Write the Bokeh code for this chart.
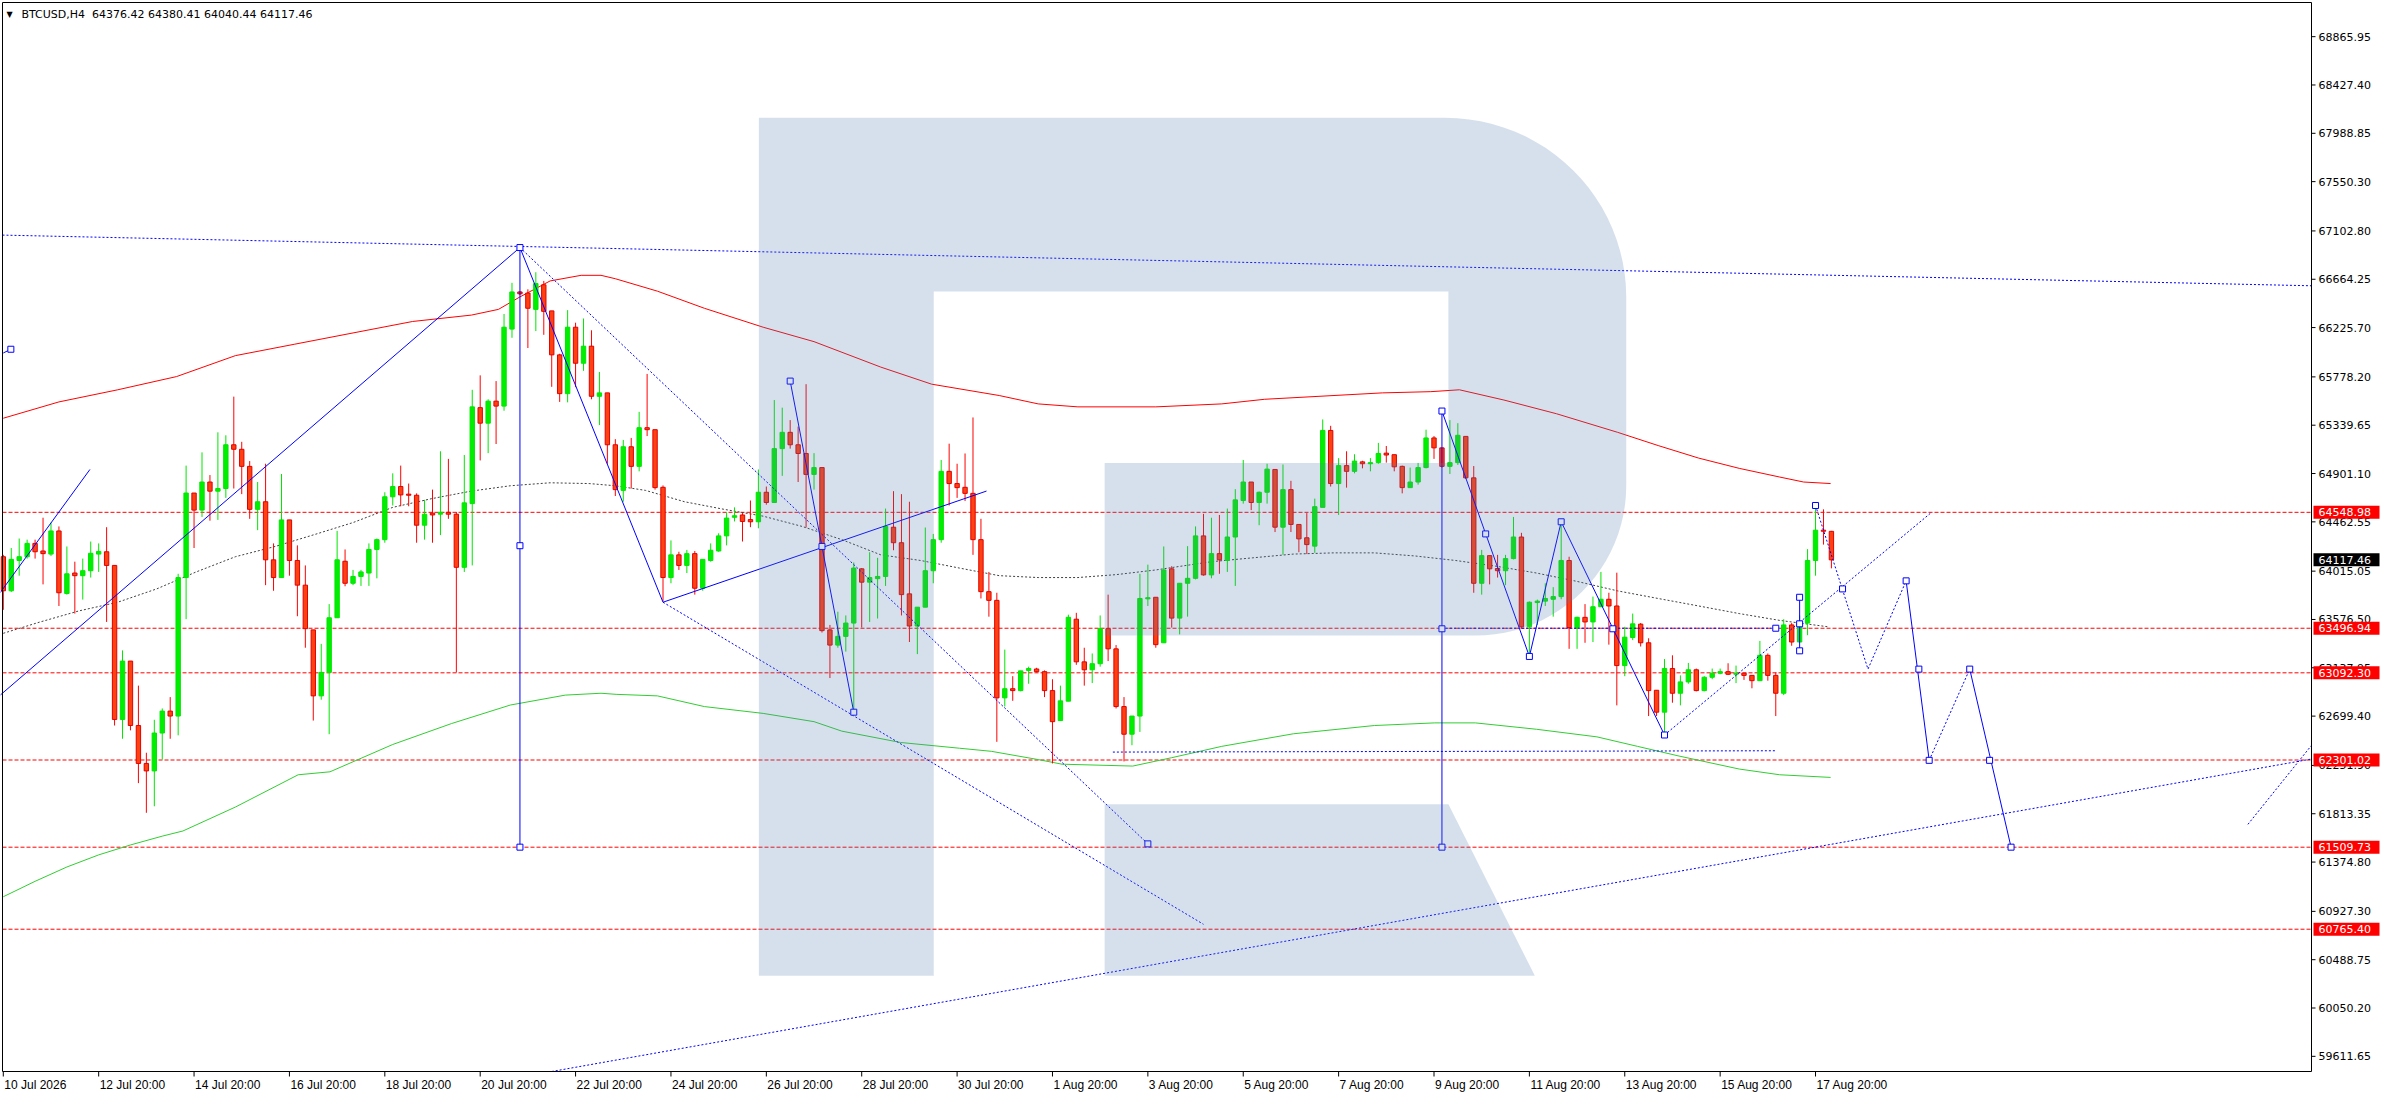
# BTCUSD H4 chart, MT4 style, rebuilt with Bokeh.
import math
from bokeh.plotting import figure
from bokeh.models import Range1d, ColumnDataSource, Label
from bokeh.core.properties import value
from bokeh.embed import file_html
from bokeh.resources import INLINE

# candles, one per H4 bar, bar 0 = 10 Jul 20:00
opens = [64146, 63837, 64112, 64146, 64267, 64198, 64170, 64380, 63812, 63998, 63974, 64019, 64170, 64191, 64067, 62669,
         63199, 62614, 62270, 62202, 62546, 62745, 62700, 63957, 64724, 64569, 64824, 64741, 64765, 65162, 65121, 64966,
         64576, 64645, 64118, 63957, 64480, 64112, 63888, 63482, 62883, 63096, 63592, 64105, 63905, 63967, 63998, 64212,
         64301, 64690, 64783, 64714, 64704, 64432, 64542, 64532, 64549, 64532, 64050, 64628, 65499, 65358, 65558, 65513,
         66212, 66549, 66539, 66391, 66614, 66377, 65978, 65626, 66229, 65902, 66057, 65602, 65633, 65162, 64748, 65144,
         64966, 65317, 65299, 64776, 63957, 64163, 64067, 64174, 63860, 64112, 64198, 64335, 64504, 64525, 64483, 64463,
         64731, 64638, 65127, 65275, 65162, 65083, 64893, 64955, 63482, 63344, 63423, 63544, 64036, 63915, 63947, 63967,
         64414, 64273, 63809, 63517, 63688, 64019, 64301, 64921, 64810, 64776, 64721, 64301, 63829, 63750, 62865, 62948,
         62931, 63114, 63127, 63103, 62931, 62659, 62835, 63579, 63192, 63120, 63175, 63493, 63310, 62786, 62535, 62700,
         63764, 63778, 63365, 64036, 63589, 63905, 63950, 64335, 63981, 64174, 64112, 64325, 64656, 64824, 64638, 64731,
         64938, 64414, 64755, 64439, 64318, 64242, 64594, 65292, 64810, 64973, 64921, 65007, 64990, 65000, 65086, 65072,
         64966, 64773, 64824, 64955, 65224, 65134, 64966, 65000, 65238, 64862, 63905, 64156, 64039, 64019, 64129, 64325,
         63510, 63730, 63743, 63760, 63784, 64112, 63503, 63596, 63554, 63692, 63760, 63699, 63158, 63413, 63534, 63365,
         62934, 62735, 63131, 62907, 63010, 63120, 62931, 63052, 63089, 63103, 63079, 63089, 63069, 63021, 63251, 63069,
         62907, 63527, 63372, 63544, 64112, 64387, 64376.42]
highs = [64163, 64225, 64311, 64301, 64301, 64500, 64456, 64421, 64239, 64101, 64129, 64284, 64267, 64414, 64067, 63296,
         63199, 62976, 62367, 62666, 62769, 62872, 63991, 64973, 64724, 65093, 64887, 65275, 65248, 65599, 65189, 65014,
         64824, 64990, 64267, 64897, 64480, 64249, 64067, 63482, 63355, 63716, 64380, 64212, 64026, 64026, 64267, 64311,
         64731, 64903, 64973, 64810, 64721, 64662, 64755, 65103, 65034, 64552, 65069, 65661, 65792, 65575, 65740, 66349,
         66632, 66556, 66573, 66728, 66649, 66377, 65988, 66384, 66270, 66308, 66201, 65823, 65633, 65213, 65206, 65224,
         65461, 65805, 65299, 64793, 64294, 64191, 64208, 64198, 64122, 64267, 64359, 64549, 64594, 64542, 64656, 64938,
         64783, 65568, 65499, 65386, 65327, 65712, 65086, 64955, 63527, 63647, 63613, 64094, 64043, 64187, 64136, 64583,
         64741, 64714, 64645, 63688, 64411, 64353, 65024, 65172, 64990, 65083, 65410, 64490, 64008, 63819, 63303, 63062,
         63110, 63148, 63138, 63114, 63034, 62976, 63620, 63637, 63320, 63268, 63613, 63802, 63344, 62872, 62700, 63991,
         64074, 63778, 64239, 64060, 63905, 64242, 64421, 64535, 64500, 64525, 64583, 64759, 65024, 64824, 64738, 64990,
         64938, 64983, 64835, 64439, 64542, 64673, 65392, 65334, 65041, 65103, 65076, 65017, 65041, 65179, 65151, 65072,
         64973, 64955, 64997, 65299, 65241, 65134, 65386, 65358, 65238, 64969, 64208, 64156, 64163, 64163, 64507, 64363,
         63740, 63757, 63905, 63870, 64439, 64146, 63602, 63716, 63784, 64008, 63819, 64001, 63510, 63630, 63544, 63406,
         62934, 63217, 63251, 63069, 63182, 63131, 63062, 63131, 63131, 63179, 63158, 63089, 63069, 63382, 63268, 63096,
         63579, 63544, 63613, 64215, 64611, 64576, 64380.41]
lows = [63664, 63826, 63974, 64129, 64129, 63895, 64153, 63699, 63802, 63630, 63757, 63957, 64008, 63554, 62614, 62494,
        62570, 62091, 61822, 61881, 62305, 62494, 62525, 63579, 64225, 64507, 64473, 64480, 64680, 64765, 64714, 64490,
        64387, 63888, 63837, 63957, 63974, 63606, 63320, 62659, 62848, 62535, 63592, 63878, 63888, 63881, 63881, 63950,
        64273, 64611, 64604, 64604, 64273, 64301, 64273, 64342, 64490, 63096, 64008, 64067, 65020, 65086, 65169, 65471,
        66133, 66522, 66040, 66194, 66160, 65688, 65551, 65547, 65685, 65833, 65575, 65341, 64990, 64697, 64645, 64765,
        64921, 65241, 64755, 63743, 63905, 64026, 63998, 63802, 63837, 64101, 64191, 64249, 64466, 64284, 64414, 64404,
        64618, 64638, 64880, 65127, 64824, 64411, 64755, 63458, 63045, 63320, 63285, 62735, 63503, 63554, 63585, 63881,
        64205, 63613, 63372, 63262, 63688, 63905, 64273, 64611, 64680, 64652, 64163, 63767, 63602, 62466, 62786, 62838,
        62924, 62993, 63096, 62872, 62270, 62655, 62835, 63165, 62976, 62999, 63148, 63199, 62769, 62288, 62435, 62556,
        63699, 63320, 63365, 63503, 63441, 63602, 63940, 63974, 63950, 63991, 64008, 63881, 64628, 64569, 64432, 64628,
        64370, 64163, 64370, 64187, 64170, 64181, 64594, 64783, 64525, 64773, 64903, 64948, 64921, 64990, 65000, 64921,
        64721, 64773, 64800, 64948, 65034, 64955, 64897, 64979, 64852, 63819, 63802, 63895, 63957, 63888, 64122, 63493,
        63268, 63527, 63699, 63602, 63760, 63310, 63310, 63365, 63372, 63690, 63348, 62797, 63062, 63389, 63331, 62700,
        62700, 62535, 62821, 62797, 62993, 62924, 62924, 63034, 63079, 63072, 62999, 63028, 62952, 63021, 63021, 62700,
        62890, 63338, 63372, 63434, 63974, 64256, 64040.44]
closes = [63837, 64122, 64146, 64267, 64191, 64174, 64380, 63819, 63991, 63974, 64019, 64177, 64194, 64067, 62669, 63199,
          62614, 62270, 62202, 62546, 62745, 62700, 63957, 64724, 64569, 64824, 64741, 64765, 65162, 65121, 64966, 64576,
          64645, 64118, 63957, 64480, 64112, 63888, 63493, 62883, 63096, 63592, 64118, 63905, 63967, 64008, 64212, 64301,
          64690, 64783, 64707, 64704, 64432, 64532, 64525, 64549, 64532, 64050, 64635, 65506, 65358, 65558, 65513, 66229,
          66549, 66532, 66401, 66625, 66373, 65978, 65626, 66229, 65902, 66057, 65602, 65633, 65162, 64755, 65144, 64966,
          65317, 65299, 64773, 63957, 64163, 64067, 64174, 63860, 64122, 64205, 64335, 64497, 64518, 64466, 64463, 64731,
          64638, 65127, 65275, 65162, 65083, 64893, 64955, 63475, 63344, 63423, 63544, 64043, 63915, 63957, 63967, 64421,
          64273, 63802, 63517, 63688, 64019, 64301, 64921, 64810, 64773, 64721, 64301, 63829, 63750, 62865, 62948, 62931,
          63110, 63131, 63103, 62931, 62649, 62838, 63596, 63192, 63120, 63175, 63493, 63310, 62786, 62535, 62700, 63767,
          63774, 63348, 64026, 63589, 63905, 63950, 64335, 63981, 64174, 64118, 64325, 64662, 64824, 64638, 64731, 64941,
          64414, 64755, 64439, 64308, 64256, 64600, 65292, 64810, 64973, 64921, 65014, 64990, 65000, 65083, 65069, 64962,
          64773, 64824, 64955, 65224, 65134, 64966, 65000, 65248, 64862, 63905, 64156, 64036, 64019, 64129, 64325, 63510,
          63733, 63743, 63767, 63784, 64112, 63503, 63596, 63554, 63692, 63760, 63699, 63158, 63416, 63537, 63365, 62931,
          62735, 63131, 62907, 63010, 63120, 62931, 63052, 63089, 63103, 63079, 63089, 63069, 63021, 63251, 63069, 62907,
          63527, 63372, 63544, 64112, 64387, 64377, 64117.46]

# envelope lines: red upper, gray dotted middle, green lower
red_x = [0, 7, 14.4, 21.8, 29.2, 36.6, 44.0, 51.5, 58.9, 62.3, 65, 68.8, 72.7, 75.2, 77, 82.3, 88.2, 95.6, 102,
         110.4, 116.8, 125.3, 130.2, 135.2, 145, 153.3, 158.7, 173.5, 179.6, 183.2, 188.8, 195.4, 203.1, 208.2,
         213.3, 218.4, 223.5, 226.5, 229.9]
red_y = [65403, 65551, 65661, 65781, 65971, 66074, 66177, 66281, 66339, 66391, 66504, 66649, 66700, 66700, 66669,
         66556, 66401, 66229, 66098, 65867, 65712, 65609, 65533, 65506, 65506, 65533, 65575, 65633, 65644, 65661,
         65568, 65444, 65275, 65155, 65041, 64948, 64869, 64824, 64810]
gray_x = [0, 4.5, 9.5, 14.4, 19.3, 24.3, 29.2, 34.2, 39.1, 44.0, 49.0, 53.9, 58.9, 63.8, 68.8, 73.7, 77, 80.8,
          85.7, 90.7, 95.6, 100.5, 105.5, 110.4, 115.4, 120.3, 125.3, 130.2, 135.2, 140.1, 145.0, 152, 157.2,
          162.3, 167.4, 172.5, 177.6, 182.7, 187.8, 192.9, 198.0, 203.1, 208.2, 213.3, 218.4, 223.5, 229.6]
gray_y = [63451, 63551, 63654, 63733, 63854, 64009, 64146, 64239, 64346, 64456, 64594, 64673, 64742, 64790, 64817,
          64810, 64790, 64748, 64645, 64576, 64514, 64421, 64301, 64163, 64112, 64043, 63974, 63957, 63957, 63984,
          64026, 64101, 64136, 64170, 64181, 64181, 64153, 64112, 64060, 63998, 63922, 63836, 63767, 63699, 63630,
          63568, 63510]
green_x = [0, 4, 8, 12, 16, 20, 22.6, 29.2, 37.1, 41.1, 49.0, 56.4, 63.8, 70.7, 75.2, 77.1, 82.3, 88.2, 95.6,
           102.0, 105.5, 112.9, 120.3, 124.3, 130.2, 133.2, 142.1, 147.0, 153.3, 162.3, 172.5, 180.1, 185.2,
           192.9, 200.5, 205.6, 210.7, 218.4, 223.5, 229.9]
green_y = [61060, 61200, 61330, 61440, 61530, 61610, 61657, 61874, 62167, 62194, 62442, 62632, 62800, 62890,
           62907, 62897, 62883, 62786, 62724, 62649, 62563, 62460, 62408, 62380, 62305, 62263, 62246, 62322, 62425,
           62539, 62614, 62638, 62638, 62580, 62511, 62425, 62339, 62219, 62167, 62143]

# horizontal levels (red dashed) and the last price
levels = [64548.98, 63496.94, 63092.30, 62301.02, 61509.73, 60765.40]
last_price = 64117.46

# hand drawn analysis lines (bar index, price)
solid_lines = [
    ([-0.4, 65.0], [62889, 66952]),
    ([-0.4, 10.9], [63819, 64938]),
    ([0.0, 0.95], [65995, 66029]),
    ([65, 65], [66952, 61510]),
    ([65, 83], [66952, 63733]),
    ([83, 123.7], [63733, 64742]),
    ([99, 107], [65740, 62735]),
    ([181, 181], [65468, 61510]),
    ([181, 192, 196, 209], [65468, 63241, 64463, 62528]),
    ([226, 226], [63292, 63778]),
    ([239.4, 242.3], [63927, 62298]),
    ([247.4, 252.6], [63126, 61510]),
]
dotted_lines = [
    ([-0.1, 290.4], [67065, 66605]),
    ([69, 290.4], [59474, 62310]),
    ([65, 144], [66952, 61540]),
    ([83, 151], [63733, 60810]),
    ([181, 223], [63497, 63497]),
    ([139.6, 223], [62373, 62385]),
    ([209, 242.6], [62528, 64549]),
    ([228, 234.6, 239.4], [64611, 63126, 63927]),
    ([242.3, 247.4], [62298, 63126]),
    ([282.4, 290.4], [61717, 62434]),
]
marker_x = [0.95, 65, 65, 65, 144, 99, 103, 107, 181, 181, 181, 186.5, 192, 196, 202.5, 209, 223, 226, 226, 226,
            231.4, 228, 239.4, 241, 242.3, 247.4, 249.9, 252.6]
marker_y = [66029, 66952, 64246, 61510, 61540, 65740, 64239, 62735, 65468, 63492, 61510, 64353, 63241, 64463,
            63492, 62528, 63497, 63292, 63537, 63778, 63854, 64611, 63927, 63126, 62298, 63126, 62298, 61510]

# axis labels
price_ticks = [68865.95, 68427.40, 67988.85, 67550.30, 67102.80, 66664.25, 66225.70, 65778.20, 65339.65,
               64901.10, 64462.55, 64015.05, 63576.50, 63137.95, 62699.40, 62251.90, 61813.35, 61374.80,
               60927.30, 60488.75, 60050.20, 59611.65]
date_pos = [0, 12, 24, 36, 48, 60, 72, 84, 96, 108, 120, 132, 144, 156, 168, 180, 192, 204, 216, 228]
date_labels = ["10 Jul 2026", "12 Jul 20:00", "14 Jul 20:00", "16 Jul 20:00", "18 Jul 20:00", "20 Jul 20:00",
               "22 Jul 20:00", "24 Jul 20:00", "26 Jul 20:00", "28 Jul 20:00", "30 Jul 20:00", "1 Aug 20:00",
               "3 Aug 20:00", "5 Aug 20:00", "7 Aug 20:00", "9 Aug 20:00", "11 Aug 20:00", "13 Aug 20:00",
               "15 Aug 20:00", "17 Aug 20:00"]

# chart box inside the canvas (pixels), and the bar / price span it shows
W, H = 2380, 1094
CL, CR, CT, CB = 2, 2311, 2, 1071
X0, X1 = -0.1, 290.4
Y0, Y1 = 59474, 69176
ppb = (CR - CL) / (X1 - X0)     # pixels per bar
ppp = (CB - CT) / (Y1 - Y0)     # pixels per price unit


def dx(px):
    return px / ppb


def dy(px):
    return px / ppp


# the frame covers the whole canvas so the price scale and tags can be drawn by hand
p = figure(width=W, height=H,
           x_range=Range1d(X0 - dx(CL), X1 + dx(W - CR)),
           y_range=Range1d(Y0 - dy(H - CB), Y1 + dy(CT)),
           x_axis_location=None, y_axis_location=None, min_border=0,
           toolbar_location=None, output_backend="svg")
p.grid.visible = False
p.outline_line_color = None
p.background_fill_color = "white"

# levels
p.segment(x0=[X0] * len(levels), y0=levels, x1=[X1] * len(levels), y1=levels, line_color="red",
          line_dash="4 2", line_width=1)

p.line(red_x, red_y, line_color="red", line_width=1)
p.line(gray_x, gray_y, line_color="#404040", line_width=1, line_dash="2 2")
p.line(green_x, green_y, line_color="#32cd32", line_width=1)

bars = list(range(len(opens)))
up = [c >= o for o, c in zip(opens, closes)]
src = ColumnDataSource(dict(
    x=bars, o=opens, h=highs, l=lows, c=closes,
    top=[max(o, c) for o, c in zip(opens, closes)],
    bot=[min(o, c) for o, c in zip(opens, closes)],
    wick=["#00e600" if u else "#ff0000" for u in up],
    body=["#00ee00" if u else "#ff4010" for u in up],
    edge=["#00e600" if u else "#e00000" for u in up],
))
p.segment(x0="x", y0="l", x1="x", y1="h", line_color="wick", line_width=1, source=src)
p.vbar(x="x", width=0.55, top="top", bottom="bot", fill_color="body", line_color="edge",
       line_width=1, source=src)

for xs, ys in dotted_lines:
    p.line(xs, ys, line_color="#0000ff", line_width=1, line_dash="2 2")
for xs, ys in solid_lines:
    p.line(xs, ys, line_color="#0000ff", line_width=1)
p.scatter(marker_x, marker_y, marker="square", size=6, line_color="#0000ff", fill_color="white", line_width=1)


# watermark logo, outlined in reference pixels and mapped onto the chart scales
def to_bar(px):
    return (px - 3.5) / 8.0


def to_price(py):
    return 64548.98 - (py - 520.0) * 8.95


def arc(cx, cy, r, a0, a1, n=24):
    pts = []
    for k in range(n + 1):
        a = math.radians(a0 + (a1 - a0) * k / n)
        pts.append((cx + r * math.cos(a), cy - r * math.sin(a)))
    return pts


body_outline = ([(764, 120), (1455, 120)] + arc(1455, 302, 182, 90, 0) + arc(1485, 493, 152, 0, -90)
                + [(1112, 645), (1112, 470), (1458, 470), (1458, 296), (940, 296), (940, 990), (764, 990)])
leg_outline = [(1112, 816), (1458, 816), (1545, 990), (1112, 990)]
p.patches([[to_bar(a) for a, b in body_outline], [to_bar(a) for a, b in leg_outline]],
          [[to_price(b) for a, b in body_outline], [to_price(b) for a, b in leg_outline]],
          fill_color="#547daf", fill_alpha=0.24, line_color=None)

# chart border: left, top, right (price scale), bottom (time scale)
p.line([X0, X0, X1, X1, X0], [Y0, Y1, Y1, Y0, Y0], line_color="black", line_width=1)

# price scale
p.segment(x0=[X1] * len(price_ticks), y0=price_ticks, x1=[X1 + dx(4)] * len(price_ticks), y1=price_ticks,
          line_color="black", line_width=1)
p.text(x=[X1 + dx(7)] * len(price_ticks), y=price_ticks, text=[f"{t:.2f}" for t in price_ticks],
       text_font=value("DejaVu Sans"), text_font_size=value("11px"), text_baseline="middle",
       text_align="left", text_color="black")

# time scale, labels start at their ticks
p.segment(x0=date_pos, y0=[Y0] * len(date_pos), x1=date_pos, y1=[Y0 - dy(5)] * len(date_pos),
          line_color="black", line_width=1)
p.text(x=[d + dx(1) for d in date_pos], y=[Y0 - dy(6)] * len(date_pos), text=date_labels,
       text_font=value("Liberation Sans"), text_font_size=value("12px"), text_baseline="top",
       text_align="left", text_color="black")

# price tags on the scale
tag_y = levels + [last_price]
tag_fill = ["#ff0000"] * len(levels) + ["black"]
p.rect(x=[X1 + dx(35)] * len(tag_y), y=tag_y, width=66, height=13, width_units="screen",
       height_units="screen", fill_color=tag_fill, line_color=None)
p.text(x=[X1 + dx(7)] * len(tag_y), y=tag_y, text=[f"{t:.2f}" for t in tag_y],
       text_font=value("DejaVu Sans"), text_font_size=value("11px"), text_baseline="middle",
       text_align="left", text_color="white")

# header
p.add_layout(Label(x=X0, y=Y1, x_offset=4, y_offset=-7, text="\u25bc", text_font="DejaVu Sans",
                   text_font_size="8px", text_baseline="top", text_color="black"))
p.add_layout(Label(x=X0, y=Y1, x_offset=19, y_offset=-5,
                   text="BTCUSD,H4\u00a0\u00a064376.42 64380.41 64040.44 64117.46",
                   text_font="DejaVu Sans", text_font_size="11px", text_baseline="top", text_color="black"))

open("out.html", "w").write(file_html(p, INLINE))
